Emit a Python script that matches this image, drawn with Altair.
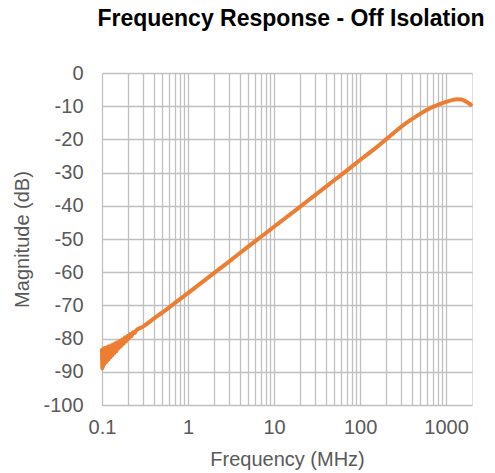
import altair as alt
import pandas as pd

# Low-frequency noisy region (MHz, dB)
noise_freq = [0.100, 0.101, 0.102, 0.103, 0.104, 0.105, 0.106, 0.107, 0.108, 0.109,
              0.110, 0.112, 0.114, 0.116, 0.118, 0.120, 0.123, 0.126, 0.129, 0.132,
              0.135, 0.139, 0.143, 0.147, 0.151, 0.156, 0.161, 0.166, 0.172, 0.178,
              0.184, 0.190, 0.197, 0.204, 0.212, 0.220, 0.230, 0.240, 0.250]
noise_db = [-83.0, -89.0, -83.2, -88.6, -83.0, -88.0, -83.0, -87.6, -82.8, -87.4,
            -82.8, -87.0, -82.6, -86.6, -82.4, -86.2, -82.3, -85.6, -82.0, -85.0,
            -81.8, -84.4, -81.4, -83.8, -81.1, -83.0, -80.7, -82.4, -80.3, -81.6,
            -79.7, -80.9, -79.2, -80.1, -78.6, -79.3, -78.1, -78.3, -77.5]

# Smooth region (MHz, dB)
smooth_freq = [0.3, 0.4, 0.5, 0.7, 1, 2, 3, 5, 7, 10, 20, 30, 50, 70, 100, 150, 200,
               300, 400, 500, 600, 700, 800, 1000, 1200, 1350, 1500, 1650, 1800, 1900, 2000]
smooth_db = [-76.4, -74.0, -72.2, -69.3, -66.3, -60.3, -56.8, -52.3, -49.4, -46.3,
             -40.3, -36.8, -32.3, -29.4, -26.2, -22.7, -20.0, -16.2, -13.9, -12.3,
             -11.1, -10.2, -9.6, -8.7, -8.1, -7.9, -8.0, -8.4, -9.0, -9.4, -9.9]

x_grid = [0.1, 0.2, 0.3, 0.4, 0.5, 0.6, 0.7, 0.8, 0.9,
          1, 2, 3, 4, 5, 6, 7, 8, 9,
          10, 20, 30, 40, 50, 60, 70, 80, 90,
          100, 200, 300, 400, 500, 600, 700, 800, 900, 1000]
y_ticks = [0, -10, -20, -30, -40, -50, -60, -70, -80, -90, -100]

df = pd.DataFrame({"freq": noise_freq + smooth_freq, "db": noise_db + smooth_db})

FONT = "Liberation Sans"
LABEL = "#595959"
GRID = "#c0c0c0"

chart = alt.Chart(df).mark_line(
    color="#ED7D31", strokeWidth=4, strokeJoin="round", interpolate="monotone"
).encode(
    x=alt.X("freq:Q",
            scale=alt.Scale(type="log", domain=[0.1, 2000], nice=False),
            axis=alt.Axis(values=x_grid, title="Frequency (MHz)",
                          labelExpr="indexof([0.1,1,10,100,1000], datum.value) >= 0 ? format(datum.value, '~g') : ''",
                          labelFont=FONT, labelFontSize=20, labelColor=LABEL,
                          titleFont=FONT, titleFontSize=20, titleColor=LABEL, titleFontWeight="normal",
                          ticks=False, domain=False, labelPadding=12, titlePadding=12,
                          grid=True, gridColor=GRID, gridWidth=1.3, labelFlush=False)),
    y=alt.Y("db:Q",
            scale=alt.Scale(domain=[-100, 0], nice=False),
            axis=alt.Axis(values=y_ticks, title="Magnitude (dB)",
                          labelExpr="datum.value + ''",
                          labelFont=FONT, labelFontSize=20, labelColor=LABEL,
                          titleFont=FONT, titleFontSize=20, titleColor=LABEL, titleFontWeight="normal",
                          ticks=False, domain=False, labelPadding=19, titlePadding=10,
                          grid=True, gridColor=GRID, gridWidth=1.3)),
).properties(
    width=370, height=332,
    autosize=alt.AutoSizeParams(type="none"),
    padding={"left": 102, "top": 73, "right": 23, "bottom": 68},
    title=alt.TitleParams("Frequency Response - Off Isolation", font=FONT, fontSize=23,
                          fontWeight="bold", color="black", anchor="middle", offset=32, dx=4),
).configure_view(stroke=GRID, strokeWidth=1.5).configure(background="white")

chart.save("out.html", embed_options={"renderer": "svg", "actions": False})
